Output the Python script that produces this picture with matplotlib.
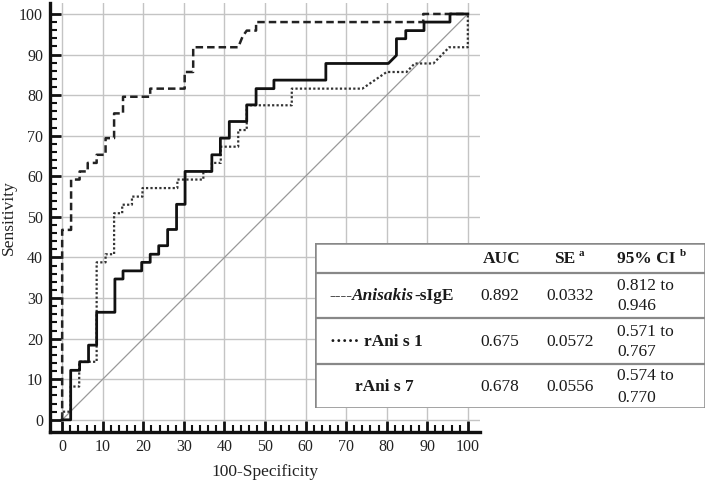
import matplotlib
matplotlib.use("Agg")
import matplotlib.pyplot as plt
from matplotlib.patches import Rectangle

# ---- data ----
sige_fpr = [0, 0, 2.2, 2.2, 4.3, 4.3, 6.3, 6.3, 8.5, 8.5, 10.7, 10.7, 12.8, 12.8,
            15.0, 15.0, 21.7, 21.7, 30.2, 30.2, 32.3, 32.3, 43.4, 44.5, 45.5, 47.8,
            47.8, 89.0, 89.0, 100]
sige_tpr = [0, 46.8, 46.8, 59.2, 59.2, 61.2, 61.2, 63.3, 63.3, 65.3, 65.3, 69.4, 69.4,
            75.5, 75.5, 79.6, 79.6, 81.6, 81.6, 85.7, 85.7, 91.8, 91.8, 94.5, 95.9, 95.9,
            98.0, 98.0, 100, 100]

s1_fpr = [0, 0, 2.1, 2.1, 4.2, 4.2, 8.5, 8.5, 10.7, 10.7, 12.8, 12.8, 14.8, 14.8,
          17.2, 17.2, 19.8, 19.8, 28.4, 28.4, 34.8, 34.8, 36.9, 36.9, 39.1, 39.1,
          43.4, 43.4, 45.5, 45.5, 56.6, 56.6, 74.0, 80.0, 84.9, 86.9, 91.5, 95.4,
          100, 100]
s1_tpr = [0, 2.0, 2.0, 8.2, 8.2, 14.3, 14.3, 38.8, 38.8, 40.8, 40.8, 50.9, 50.9, 53.0,
          53.0, 55.0, 55.0, 57.1, 57.1, 59.2, 59.2, 61.2, 61.2, 63.3, 63.3, 67.3,
          67.3, 71.4, 71.4, 77.5, 77.5, 81.6, 81.6, 85.7, 85.7, 87.8, 87.8, 91.8,
          91.8, 100]

s7_fpr = [0, 2.1, 2.1, 4.3, 4.3, 6.5, 6.5, 8.5, 8.5, 13.0, 13.0, 15.0, 15.0, 19.6,
          19.6, 21.7, 21.7, 23.8, 23.8, 26.0, 26.0, 28.2, 28.2, 30.3, 30.3, 36.9,
          36.9, 39.0, 39.0, 41.2, 41.2, 45.5, 45.5, 47.8, 47.8, 52.2, 52.2, 65.0,
          65.0, 80.4, 82.4, 82.4, 84.7, 84.7, 89.2, 89.2, 95.6, 95.6, 100]
s7_tpr = [0, 0, 12.2, 12.2, 14.3, 14.3, 18.4, 18.4, 26.5, 26.5, 34.7, 34.7, 36.7,
          36.7, 38.8, 38.8, 40.8, 40.8, 42.9, 42.9, 46.9, 46.9, 53.1, 53.1, 61.2,
          61.2, 65.3, 65.3, 69.4, 69.4, 73.5, 73.5, 77.6, 77.6, 81.6, 81.6, 83.7,
          83.7, 87.8, 87.8, 89.8, 93.9, 93.9, 95.9, 95.9, 98.0, 98.0, 100, 100]

diag = [0, 100]
ticks = list(range(0, 101, 10))

row_auc = ["0.892", "0.675", "0.678"]
row_se = ["0.0332", "0.0572", "0.0556"]
row_ci_lo = ["0.812 to", "0.571 to", "0.574 to"]
row_ci_hi = ["0.946", "0.767", "0.770"]

W, H = 708, 487
fig = plt.figure(figsize=(W / 100, H / 100), dpi=100)
fig.patch.set_facecolor("white")
serif = ["Liberation Serif", "DejaVu Serif"]

ax = fig.add_axes([50 / W, 1 - 432 / H, 430 / W, 429 / H])
ax.set_xlim(-3, 103)
ax.set_ylim(-3, 102.7)

ax.plot(diag, diag, color="#999999", lw=0.9, zorder=2)
ax.plot(sige_fpr, sige_tpr, color="#222222", lw=1.8, linestyle=(0, (3, 1.6)), zorder=3)
ax.plot(s1_fpr, s1_tpr, color="#333333", lw=1.6, linestyle=(0, (1, 1)), zorder=3)
ax.plot(s7_fpr, s7_tpr, color="#111111", lw=2.0, zorder=4)

ax.set_xticks(ticks)
ax.set_yticks(ticks)
ax.set_xticks([t for t in range(0, 101, 2) if t % 10], minor=True)
ax.set_yticks([t for t in range(0, 101, 2) if t % 10], minor=True)
ax.grid(True, which="major", color="#c4c4c4", lw=1.0, zorder=0)
ax.set_axisbelow(True)
for s in ["top", "right"]:
    ax.spines[s].set_visible(False)
for s in ["left", "bottom"]:
    ax.spines[s].set_linewidth(2.4)
    ax.spines[s].set_color("#111111")
ax.tick_params(which="major", direction="in", length=8, width=2, color="#111111",
               labelsize=11.5, pad=5)
ax.tick_params(which="minor", direction="in", length=5, width=1.5, color="#111111")
for lab in ax.get_xticklabels() + ax.get_yticklabels():
    lab.set_family(serif)
    lab.set_color("#222222")
ax.set_xlabel("100-Specificity", family=serif, fontsize=12.5, color="#222222",
              va="center")
ax.xaxis.set_label_coords((265 - 50) / 430, (432 - 472) / 429)
ax.set_ylabel("Sensitivity", family=serif, fontsize=12.5, color="#222222", va="center")
ax.yaxis.set_label_coords((9 - 50) / 430, 0.5)

# ---- table ----
tx0, ty0, tw, th = 315, 243, 390, 165
tab = fig.add_axes([tx0 / W, 1 - (ty0 + th) / H, tw / W, th / H])
tab.set_xlim(0, tw)
tab.set_ylim(th, 0)
tab.axis("off")
tab.add_patch(Rectangle((0, 0), tw, th, facecolor="white", edgecolor="#888888", lw=1.8))
for yy in [30, 75, 121]:
    tab.plot([0, tw], [yy, yy], color="#888888", lw=1.6)

fs = 12.5
tc = "#1a1a1a"
tab.text(187, 16, "AUC", ha="center", va="center", fontsize=fs, fontweight="bold",
         family=serif, color=tc)
tab.text(250, 16, "SE", ha="center", va="center", fontsize=fs, fontweight="bold",
         family=serif, color=tc)
tab.text(266, 11, "a", ha="center", va="center", fontsize=8, fontweight="bold",
         family=serif, color=tc)
tab.text(331, 16, "95% CI", ha="center", va="center", fontsize=fs, fontweight="bold",
         family=serif, color=tc)
tab.text(368, 11, "b", ha="center", va="center", fontsize=8, fontweight="bold",
         family=serif, color=tc)

row_c = [53, 99, 144]
for i in range(3):
    tab.text(185, row_c[i], row_auc[i], ha="center", va="center", fontsize=fs,
             family=serif, color=tc)
    tab.text(255, row_c[i], row_se[i], ha="center", va="center", fontsize=fs,
             family=serif, color=tc)
    tab.text(302, row_c[i] - 10.5, row_ci_lo[i], ha="left", va="center", fontsize=fs,
             family=serif, color=tc)
    tab.text(302, row_c[i] + 10.5, row_ci_hi[i], ha="left", va="center", fontsize=fs,
             family=serif, color=tc)

# row labels
fig.canvas.draw()
rend = fig.canvas.get_renderer()
inv = tab.transData.inverted()

def seq_text(x, y, parts):
    for txt, kw in parts:
        opts = {"fontsize": fs}
        opts.update(kw)
        t = tab.text(x, y, txt, ha="left", va="center", family=serif, color=tc, **opts)
        bb = t.get_window_extent(renderer=rend)
        x = inv.transform((bb.x1, bb.y0))[0]

seq_text(14, row_c[0], [("----", {}),
                        ("Anisakis", {"fontweight": "bold", "style": "italic"}),
                        ("-sIgE", {"fontweight": "bold"})])
seq_text(15, row_c[1], [("\u00b7\u00b7\u00b7\u00b7\u00b7 ", {"fontweight": "bold"}),
                        ("rAni s 1", {"fontweight": "bold"})])
seq_text(40, row_c[2], [("rAni s 7", {"fontweight": "bold"})])

fig.savefig("out.png", dpi=100)
